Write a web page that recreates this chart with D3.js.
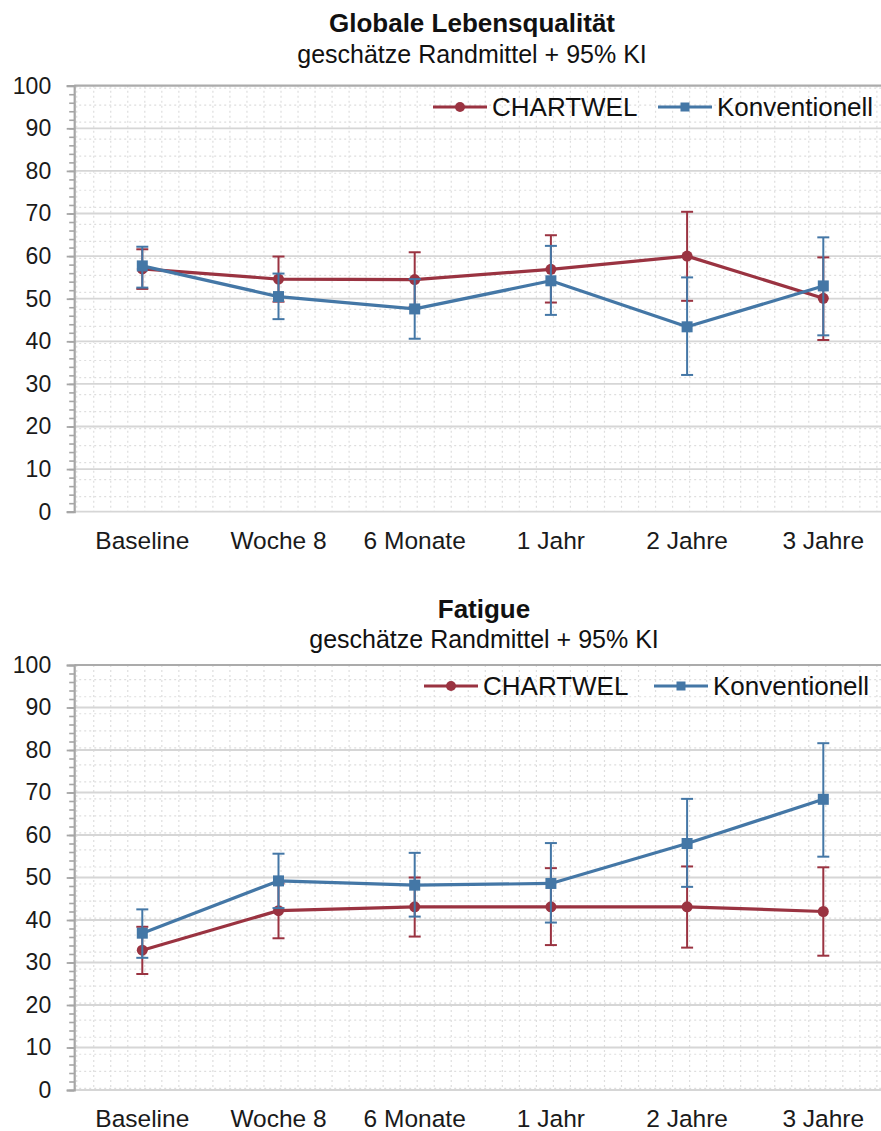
<!DOCTYPE html>
<html>
<head>
<meta charset="utf-8">
<script src="https://cdn.jsdelivr.net/npm/d3@7"></script>
<style>
  html, body { margin: 0; padding: 0; background: #ffffff; }
  svg { display: block; font-family: "Liberation Sans", Arial, Helvetica, sans-serif; }
</style>
</head>
<body>
<svg id="chart" width="881" height="1131"></svg>
<script>
// Time points shared by both panels
const categories = ["Baseline", "Woche 8", "6 Monate", "1 Jahr", "2 Jahre", "3 Jahre"];
const seriesNames = ["CHARTWEL", "Konventionell"];
const yTicks = [0, 10, 20, 30, 40, 50, 60, 70, 80, 90, 100];
const yMinorTicks = d3.range(0, 101, 2);

// Globale Lebensqualität: estimated marginal means with 95% CI
const qolChartwelMean  = [57.0, 54.6, 54.5, 56.9, 60.0, 50.1];
const qolChartwelLower = [52.3, 49.3, 48.1, 49.1, 49.5, 40.3];
const qolChartwelUpper = [61.6, 59.9, 60.9, 64.9, 70.4, 59.7];
const qolKonvMean      = [57.7, 50.5, 47.6, 54.2, 43.4, 53.0];
const qolKonvLower     = [52.6, 45.2, 40.6, 46.2, 32.1, 41.4];
const qolKonvUpper     = [62.2, 55.9, 54.6, 62.4, 55.0, 64.4];

// Fatigue: estimated marginal means with 95% CI
const fatChartwelMean  = [32.9, 42.2, 43.1, 43.1, 43.1, 42.0];
const fatChartwelLower = [27.3, 35.7, 36.1, 34.1, 33.5, 31.6];
const fatChartwelUpper = [38.4, 48.6, 50.0, 52.2, 52.6, 52.4];
const fatKonvMean      = [36.9, 49.2, 48.2, 48.6, 58.0, 68.4];
const fatKonvLower     = [31.1, 42.8, 40.8, 39.4, 47.8, 54.9];
const fatKonvUpper     = [42.5, 55.6, 55.8, 58.1, 68.5, 81.6];

const colors = { "CHARTWEL": "#9a3341", "Konventionell": "#4477a6" };

function makeSeries(name, mean, lower, upper) {
  return { name, points: categories.map((c, i) => ({ cat: c, v: mean[i], lo: lower[i], hi: upper[i] })) };
}

const panels = [
  {
    title: "Globale Lebensqualität",
    subtitle: "geschätze Randmittel + 95% KI",
    titleX: 472, titleY: 32, subtitleY: 63,
    top: 85.7, bottom: 511.7, gridOffset: 15,
    legend: { x: [433, 658], y: 107 },
    series: [
      makeSeries("CHARTWEL", qolChartwelMean, qolChartwelLower, qolChartwelUpper),
      makeSeries("Konventionell", qolKonvMean, qolKonvLower, qolKonvUpper)
    ]
  },
  {
    title: "Fatigue",
    subtitle: "geschätze Randmittel + 95% KI",
    titleX: 484, titleY: 618, subtitleY: 648,
    top: 665, bottom: 1090, gridOffset: 1.7,
    legend: { x: [424, 654], y: 686 },
    series: [
      makeSeries("CHARTWEL", fatChartwelMean, fatChartwelLower, fatChartwelUpper),
      makeSeries("Konventionell", fatKonvMean, fatKonvLower, fatKonvUpper)
    ]
  }
];

const svg = d3.select("#chart");
const left = 74.2, right = 891.4;
const x = d3.scaleBand().domain(categories).range([left, right]).padding(0);
const cell = x.bandwidth() / 8;

panels.forEach(p => {
  const g = svg.append("g");
  const y = d3.scaleLinear().domain([0, 100]).range([p.bottom, p.top]);

  // fine dotted background grid
  const vLines = d3.range(left + 2.5, right, cell);
  const hLines = d3.range(p.bottom - p.gridOffset, p.top + 1, -cell);
  g.append("g").selectAll("line").data(vLines).join("line")
    .attr("x1", d => d).attr("x2", d => d)
    .attr("y1", p.top).attr("y2", p.bottom)
    .attr("stroke", "#dedede").attr("stroke-width", 1.2).attr("stroke-dasharray", "2,3");
  g.append("g").selectAll("line").data(hLines).join("line")
    .attr("x1", left).attr("x2", right)
    .attr("y1", d => d).attr("y2", d => d)
    .attr("stroke", "#dedede").attr("stroke-width", 1.2).attr("stroke-dasharray", "2,3");

  // major gridlines
  g.append("g").selectAll("line").data(yTicks).join("line")
    .attr("x1", left).attr("x2", right)
    .attr("y1", d => y(d)).attr("y2", d => y(d))
    .attr("stroke", d => d === 100 ? "#ababab" : "#d6d6d6")
    .attr("stroke-width", d => d === 100 ? 2.2 : 1.8);

  // y axis: minor ticks then major ticks with labels
  g.append("g").attr("transform", `translate(${left},0)`)
    .call(d3.axisLeft(y).tickValues(yMinorTicks).tickSize(5).tickFormat(""))
    .call(a => a.select(".domain").remove())
    .call(a => a.selectAll("line").attr("stroke", "#a6a6a6").attr("stroke-width", 1.6));
  g.append("g").attr("transform", `translate(${left},0)`)
    .call(d3.axisLeft(y).tickValues(yTicks).tickSize(7.5).tickPadding(15.5))
    .call(a => a.select(".domain").attr("stroke", "#a6a6a6").attr("stroke-width", 2.2))
    .call(a => a.selectAll("line").attr("stroke", "#a6a6a6").attr("stroke-width", 1.8))
    .call(a => a.selectAll("text").attr("font-size", 23).attr("fill", "#1a1a1a")
      .attr("font-family", "'Liberation Sans', Arial, sans-serif"));

  // x axis labels
  g.append("g").attr("transform", `translate(0,${p.bottom})`)
    .call(d3.axisBottom(x).tickSize(0).tickPadding(20))
    .call(a => a.select(".domain").remove())
    .call(a => a.selectAll("text").attr("font-size", 24.5).attr("fill", "#1a1a1a")
      .attr("font-family", "'Liberation Sans', Arial, sans-serif"));

  // titles
  g.append("text").attr("x", p.titleX).attr("y", p.titleY).attr("text-anchor", "middle")
    .attr("font-size", 26).attr("font-weight", "bold").attr("fill", "#111").text(p.title);
  g.append("text").attr("x", p.titleX).attr("y", p.subtitleY).attr("text-anchor", "middle")
    .attr("font-size", 25).attr("fill", "#111").text(p.subtitle);

  const cx = d => x(d.cat) + x.bandwidth() / 2;
  const line = d3.line().x(cx).y(d => y(d.v));

  p.series.forEach(s => {
    const col = colors[s.name];
    const sg = g.append("g");
    // error bars
    const eb = sg.append("g").selectAll("g").data(s.points).join("g");
    eb.append("line").attr("x1", cx).attr("x2", cx)
      .attr("y1", d => y(d.lo)).attr("y2", d => y(d.hi))
      .attr("stroke", col).attr("stroke-width", 2);
    eb.append("line").attr("x1", d => cx(d) - 6).attr("x2", d => cx(d) + 6)
      .attr("y1", d => y(d.hi)).attr("y2", d => y(d.hi))
      .attr("stroke", col).attr("stroke-width", 2);
    eb.append("line").attr("x1", d => cx(d) - 6).attr("x2", d => cx(d) + 6)
      .attr("y1", d => y(d.lo)).attr("y2", d => y(d.lo))
      .attr("stroke", col).attr("stroke-width", 2);
    // mean line
    sg.append("path").datum(s.points).attr("d", line)
      .attr("fill", "none").attr("stroke", col).attr("stroke-width", 3.2)
      .attr("stroke-linejoin", "round");
    // markers
    if (s.name === "CHARTWEL") {
      sg.append("g").selectAll("circle").data(s.points).join("circle")
        .attr("cx", cx).attr("cy", d => y(d.v)).attr("r", 5.5).attr("fill", col);
    } else {
      sg.append("g").selectAll("rect").data(s.points).join("rect")
        .attr("x", d => cx(d) - 5.5).attr("y", d => y(d.v) - 5.5)
        .attr("width", 11).attr("height", 11).attr("fill", col);
    }
  });

  // legend
  const lg = g.append("g");
  seriesNames.forEach((name, i) => {
    const lx = p.legend.x[i], ly = p.legend.y, col = colors[name];
    lg.append("line").attr("x1", lx).attr("x2", lx + 54).attr("y1", ly).attr("y2", ly)
      .attr("stroke", col).attr("stroke-width", 3);
    if (name === "CHARTWEL") {
      lg.append("circle").attr("cx", lx + 27).attr("cy", ly).attr("r", 5).attr("fill", col);
    } else {
      lg.append("rect").attr("x", lx + 22.5).attr("y", ly - 4.5).attr("width", 9).attr("height", 9).attr("fill", col);
    }
    lg.append("text").attr("x", lx + 59).attr("y", ly).attr("dy", "0.35em")
      .attr("font-size", 26).attr("fill", "#111").text(name);
  });
});
</script>
</body>
</html>
